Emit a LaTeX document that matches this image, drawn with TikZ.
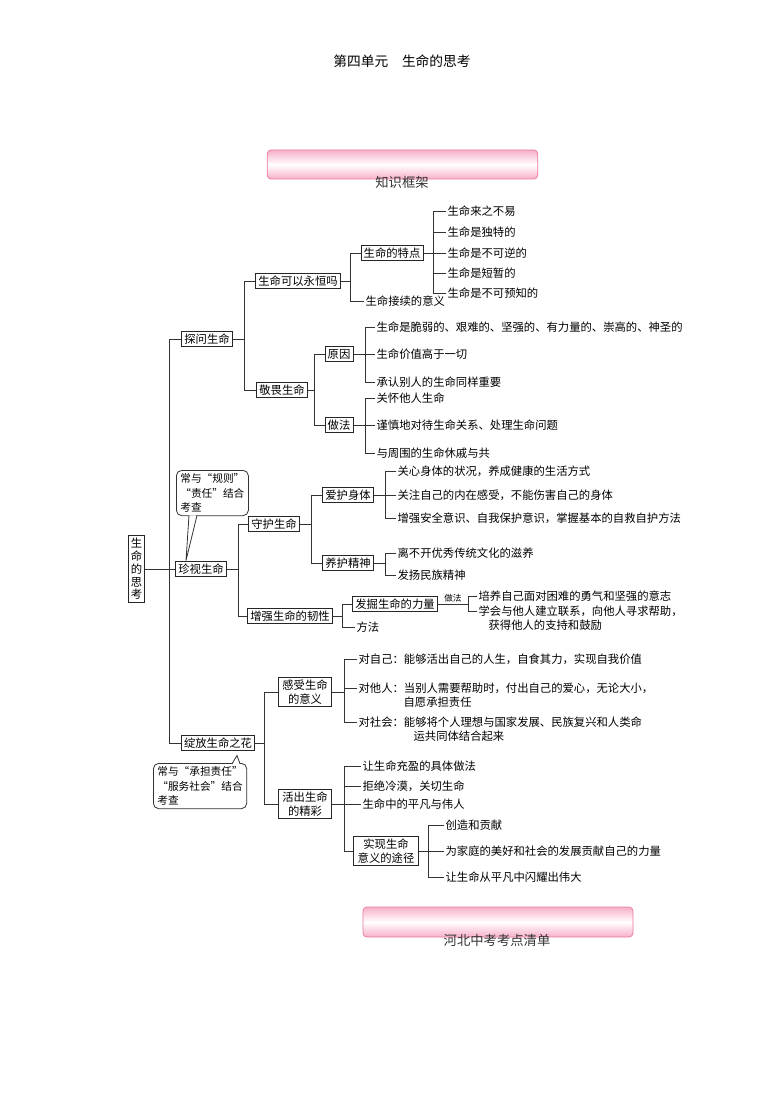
\documentclass[tikz,border=0pt]{standalone}
\usepackage{fontspec}
\newfontfamily\cjk{Noto Sans CJK SC}
\definecolor{barpink}{RGB}{247,176,202}
\definecolor{barline}{RGB}{232,122,160}

\begin{document}
\begin{tikzpicture}[x=0.75pt,y=-0.75pt]
	\tikzset{box/.style={draw=black!85, line width=0.75pt, inner sep=2pt, font=\cjk\fontsize{8.5}{10.5}\selectfont},
		mbox/.style={box, align=center, inner xsep=3pt},
		leaf/.style={anchor=west, inner sep=1pt, font=\cjk\fontsize{8.5}{10.5}\selectfont},
		ln/.style={draw=black!80, line width=0.6pt},
		note/.style={draw=black!80, line width=0.6pt, rounded corners=4pt, fill=white, anchor=north west, align=left, inner xsep=3pt, inner ysep=2.5pt, font=\cjk\fontsize{8}{10.8}\selectfont},
		band/.style={draw=barline, line width=0.6pt, rounded corners=3pt, top color=barpink, bottom color=barpink, middle color=white}};

	\useasboundingbox (0,0) rectangle (780,1105);

	% heading and bands
	\node[font=\cjk\fontsize{10.3}{12}\selectfont] (title) at (402,61) {第四单元\hspace{1em}生命的思考};
	\node[band, minimum width=203pt, minimum height=21.75pt] (bar1) at (402.5,164.5) {};
	\node[font=\cjk\fontsize{10}{12}\selectfont, text=black!80] (bar1t) at (402,182) {知识框架};
	\node[band, minimum width=202.5pt, minimum height=22.5pt] (bar2) at (498,922) {};
	\node[font=\cjk\fontsize{10}{12}\selectfont, text=black!80] (bar2t) at (497,940) {河北中考考点清单};

	% root and first level
	\node[box, align=center, font=\cjk\fontsize{8.5}{9.6}\selectfont] (root) at (136.5,569) {生\\命\\的\\思\\考};
	\node[box] (tanwen) at (207,339) {探问生命};
	\node[box] (zhenshi) at (201,569) {珍视生命};
	\node[box] (zhanfang) at (218,743) {绽放生命之花};

	% 探问生命
	\node[box] (yongheng) at (298,281) {生命可以永恒吗};
	\node[box] (jingwei) at (282,390) {敬畏生命};
	\node[box] (tedian) at (392,253) {生命的特点};
	\node[leaf] (jx) at (364,301) {生命接续的意义};
	\node[leaf] (t1) at (446,211) {生命来之不易};
	\node[leaf] (t2) at (446,232) {生命是独特的};
	\node[leaf] (t3) at (446,253) {生命是不可逆的};
	\node[leaf] (t4) at (446,273) {生命是短暂的};
	\node[leaf] (t5) at (446,293) {生命是不可预知的};
	\node[box] (yuanyin) at (339,354) {原因};
	\node[box] (zuofa) at (339,425) {做法};
	\node[leaf] (r1) at (375,327) {生命是脆弱的、艰难的、坚强的、有力量的、崇高的、神圣的};
	\node[leaf] (r2) at (375,354) {生命价值高于一切};
	\node[leaf] (r3) at (375,382) {承认别人的生命同样重要};
	\node[leaf] (z1) at (375,398) {关怀他人生命};
	\node[leaf] (z2) at (375,425) {谨慎地对待生命关系、处理生命问题};
	\node[leaf] (z3) at (375,453) {与周围的生命休戚与共};

	% 珍视生命
	\node[box] (shouhu) at (274,524) {守护生命};
	\node[box] (renxing) at (290,616) {增强生命的韧性};
	\node[box] (aihu) at (348,495) {爱护身体};
	\node[box] (yanghu) at (348,563) {养护精神};
	\node[leaf] (a1) at (396,471) {关心身体的状况，养成健康的生活方式};
	\node[leaf] (a2) at (396,495) {关注自己的内在感受，不能伤害自己的身体};
	\node[leaf] (a3) at (396,518) {增强安全意识、自我保护意识，掌握基本的自救自护方法};
	\node[leaf] (y1) at (396,553) {离不开优秀传统文化的滋养};
	\node[leaf] (y2) at (396,575) {发扬民族精神};
	\node[box] (fajue) at (395,604) {发掘生命的力量};
	\node[leaf] (ff) at (355,627) {方法};
	\node[leaf] (f1) at (477,596) {培养自己面对困难的勇气和坚强的意志};
	\node[leaf] (f2) at (477,611) {学会与他人建立联系，向他人寻求帮助，};
	\node[leaf] (f2b) at (487,625) {获得他人的支持和鼓励};

	% 绽放生命之花
	\node[mbox] (ganshou) at (305,692) {感受生命\\的意义};
	\node[mbox] (huochu) at (305,804) {活出生命\\的精彩};
	\node[leaf] (g1) at (357,659) {对自己：能够活出自己的人生，自食其力，实现自我价值};
	\node[leaf] (g2) at (357,688) {对他人：当别人需要帮助时，付出自己的爱心，无论大小，};
	\node[leaf] (g2b) at (402,702) {自愿承担责任};
	\node[leaf] (g3) at (357,722) {对社会：能够将个人理想与国家发展、民族复兴和人类命};
	\node[leaf] (g3b) at (412,736) {运共同体结合起来};
	\node[leaf] (h1) at (361,766) {让生命充盈的具体做法};
	\node[leaf] (h2) at (361,786) {拒绝冷漠，关切生命};
	\node[leaf] (h3) at (361,804) {生命中的平凡与伟人};
	\node[mbox] (tujing) at (386,851) {实现生命\\意义的途径};
	\node[leaf] (u1) at (444,825) {创造和贡献};
	\node[leaf] (u2) at (444,851) {为家庭的美好和社会的发展贡献自己的力量};
	\node[leaf] (u3) at (444,877) {让生命从平凡中闪耀出伟大};

	% bracket columns
	\coordinate (k0) at (169,0);
	\coordinate (k1) at (244,0);
	\coordinate (k2) at (350,0);
	\coordinate (k3) at (433,0);
	\coordinate (k4) at (314,0);
	\coordinate (k5) at (365,0);
	\coordinate (k6) at (238,0);
	\coordinate (k7) at (311,0);
	\coordinate (k8) at (385,0);
	\coordinate (k9) at (342,0);
	\coordinate (k10) at (468,0);
	\coordinate (k11) at (264,0);
	\coordinate (k12) at (344,0);
	\coordinate (k13) at (428,0);

	\draw[ln] (root.east) -- (zhenshi.west);
	\draw[ln] (tanwen.west) -| (k0 |- zhanfang.west) -- (zhanfang.west);

	\draw[ln] (tanwen.east) -- (tanwen.east -| k1);
	\draw[ln] (yongheng.west) -| (k1 |- jingwei.west) -- (jingwei.west);
	\draw[ln] (yongheng.east) -- (yongheng.east -| k2);
	\draw[ln] (tedian.west) -| (k2 |- jx.west) -- (jx.west);
	\draw[ln] (tedian.east) -- (t3.west);
	\draw[ln] (t1.west) -| (k3 |- t5.west) -- (t5.west);
	\draw[ln] (t2.west) -- (t2.west -| k3);
	\draw[ln] (t4.west) -- (t4.west -| k3);
	\draw[ln] (jingwei.east) -- (jingwei.east -| k4);
	\draw[ln] (yuanyin.west) -| (k4 |- zuofa.west) -- (zuofa.west);
	\draw[ln] (yuanyin.east) -- (r2.west);
	\draw[ln] (r1.west) -| (k5 |- r3.west) -- (r3.west);
	\draw[ln] (zuofa.east) -- (z2.west);
	\draw[ln] (z1.west) -| (k5 |- z3.west) -- (z3.west);

	\draw[ln] (zhenshi.east) -- (zhenshi.east -| k6);
	\draw[ln] (shouhu.west) -| (k6 |- renxing.west) -- (renxing.west);
	\draw[ln] (shouhu.east) -- (shouhu.east -| k7);
	\draw[ln] (aihu.west) -| (k7 |- yanghu.west) -- (yanghu.west);
	\draw[ln] (aihu.east) -- (a2.west);
	\draw[ln] (a1.west) -| (k8 |- a3.west) -- (a3.west);
	\draw[ln] (yanghu.east) -- (yanghu.east -| k8);
	\draw[ln] (y1.west) -| (k8 |- y2.west) -- (y2.west);
	\draw[ln] (renxing.east) -- (renxing.east -| k9);
	\draw[ln] (fajue.west) -| (k9 |- ff.west) -- (ff.west);
	\draw[ln] (fajue.east) -- node[above, inner sep=1pt, font=\cjk\fontsize{6.5}{8}\selectfont] {做法} (fajue.east -| k10);
	\draw[ln] (f1.west) -| (k10 |- f2.west) -- (f2.west);

	\draw[ln] (zhanfang.east) -- (zhanfang.east -| k11);
	\draw[ln] (ganshou.west) -| (k11 |- huochu.west) -- (huochu.west);
	\draw[ln] (ganshou.east) -- (ganshou.east -| k12);
	\draw[ln] (g1.west) -| (k12 |- g3.west) -- (g3.west);
	\draw[ln] (g2.west) -- (g2.west -| k12);
	\draw[ln] (huochu.east) -- (h3.west);
	\draw[ln] (h1.west) -| (k12 |- tujing.west) -- (tujing.west);
	\draw[ln] (h2.west) -- (h2.west -| k12);
	\draw[ln] (tujing.east) -- (u2.west);
	\draw[ln] (u1.west) -| (k13 |- u3.west) -- (u3.west);

	% notes
	\node[note] (tip1) at (176,470) {常与“规则”\\“责任”结合\\考查};
	\fill[white] ([xshift=9.75pt,yshift=0.6pt]tip1.south west) -- ([xshift=-11.25pt]zhenshi.north) -- ([xshift=15.75pt,yshift=0.6pt]tip1.south west) -- cycle;
	\draw[ln] ([xshift=9.75pt,yshift=0.6pt]tip1.south west) -- ([xshift=-11.25pt]zhenshi.north) -- ([xshift=15.75pt,yshift=0.6pt]tip1.south west);

	\node[note] (tip2) at (153,763) {常与“承担责任”\\“服务社会”结合\\考查};
	\fill[white] ([xshift=59.25pt,yshift=-0.6pt]tip2.north west) -- ([xshift=14.25pt,yshift=-3pt]zhanfang.south) -- ([xshift=65.25pt,yshift=-0.6pt]tip2.north west) -- cycle;
	\draw[ln] ([xshift=59.25pt,yshift=-0.6pt]tip2.north west) -- ([xshift=14.25pt,yshift=-3pt]zhanfang.south) -- ([xshift=65.25pt,yshift=-0.6pt]tip2.north west);
\end{tikzpicture}
\end{document}
